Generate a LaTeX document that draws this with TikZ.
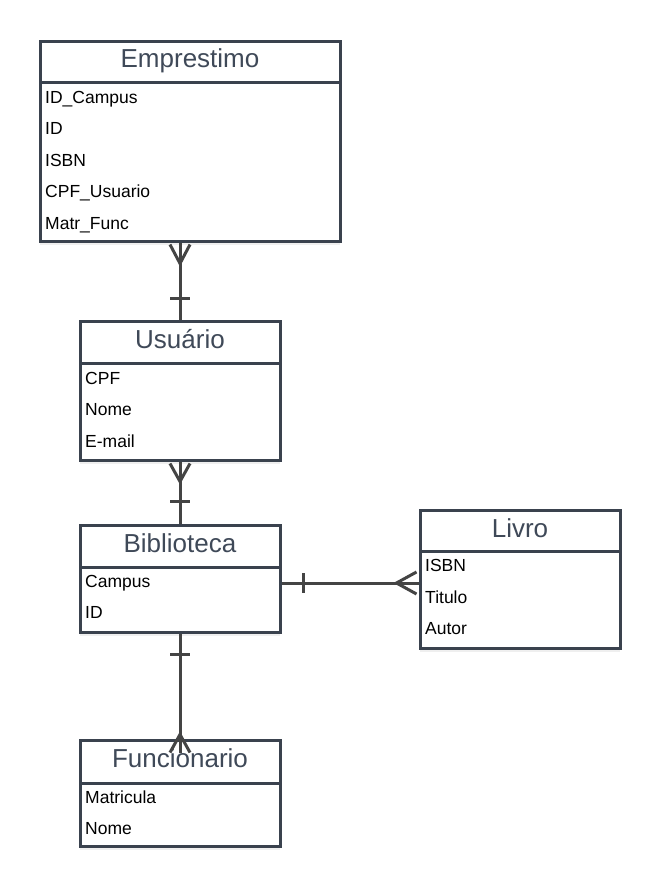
\documentclass[tikz,border=0pt]{standalone}
\usepackage{fontspec}
\setmainfont{Liberation Sans}
\usetikzlibrary{calc,shadows}
\definecolor{bord}{HTML}{3A424E}
\definecolor{ttl}{HTML}{3F4958}
\definecolor{connc}{HTML}{444444}
\begin{document}
\begin{tikzpicture}[x=1pt,y=-1pt,
  box/.style={draw=bord, line width=3pt, fill=white, rectangle, inner sep=0pt,
    drop shadow={opacity=0.12, shadow xshift=0pt, shadow yshift=-4pt}},
  divline/.style={draw=bord, line width=3pt},
  ttlt/.style={font=\fontsize{26}{26}\selectfont, text=ttl, inner sep=0pt, anchor=base},
  rowt/.style={font=\fontsize{17.5}{17.5}\selectfont, text=black, inner sep=0pt, anchor=base west},
  conn/.style={draw=connc, line width=3pt},
]
\useasboundingbox (0,0) rectangle (660,886);
\fill[white] (0,0) rectangle (660,886);

% Emprestimo
\node[box, minimum width=300pt, minimum height=200pt] (emp) at (190,141) {};
\draw[divline] (40,82) -- (340,82);
\node[ttlt] (empt) at (190,67) {Emprestimo};
\node[rowt] (emp1) at (45,103) {ID\_Campus};
\node[rowt] (emp2) at (45,134.5) {ID};
\node[rowt] (emp3) at (45,166) {ISBN};
\node[rowt] (emp4) at (45,197.5) {CPF\_Usuario};
\node[rowt] (emp5) at (45,229) {Matr\_Func};

% Usuario
\node[box, minimum width=200pt, minimum height=139pt] (usu) at (180,390.5) {};
\draw[divline] (80,363) -- (280,363);
\node[ttlt] (usut) at (180,348) {Usuário};
\node[rowt] (usu1) at (85,384) {CPF};
\node[rowt] (usu2) at (85,415.5) {Nome};
\node[rowt] (usu3) at (85,447) {E-mail};

% Biblioteca
\node[box, minimum width=200pt, minimum height=107pt] (bib) at (180,578.5) {};
\draw[divline] (80,567) -- (280,567);
\node[ttlt] (bibt) at (180,552) {Biblioteca};
\node[rowt] (bib1) at (85,587) {Campus};
\node[rowt] (bib2) at (85,618.5) {ID};

% Livro
\node[box, minimum width=200pt, minimum height=138pt] (liv) at (520,579) {};
\draw[divline] (420,551) -- (620,551);
\node[ttlt] (livt) at (520,537) {Livro};
\node[rowt] (liv1) at (425,571.5) {ISBN};
\node[rowt] (liv2) at (425,603) {Titulo};
\node[rowt] (liv3) at (425,634.5) {Autor};

% Funcionario
\node[box, minimum width=200pt, minimum height=106pt] (fun) at (180,793) {};
\draw[divline] (80,783) -- (280,783);
\node[ttlt] (funt) at (180,767) {Funcionario};
\node[rowt] (fun1) at (85,803) {Matricula};
\node[rowt] (fun2) at (85,834.5) {Nome};

% Emprestimo -- Usuario
\coordinate (e1) at (usu.north |- emp.south);
\draw[conn] (e1) -- (usu.north);
\draw[conn] ($(e1)+(-10,2)$) -- ($(e1)+(0,21)$) -- ($(e1)+(10,2)$);
\draw[conn] ($(usu.north)+(-10,-21)$) -- ($(usu.north)+(10,-21)$);

% Usuario -- Biblioteca
\draw[conn] (usu.south) -- (bib.north);
\draw[conn] ($(usu.south)+(-10,2)$) -- ($(usu.south)+(0,20)$) -- ($(usu.south)+(10,2)$);
\draw[conn] ($(bib.north)+(-10,-22)$) -- ($(bib.north)+(10,-22)$);

% Biblioteca -- Livro
\coordinate (b3) at ($(bib.east)+(0,4.5)$);
\coordinate (l3) at (liv.west |- b3);
\draw[conn] (b3) -- (l3);
\draw[conn] ($(b3)+(22,-10)$) -- ($(b3)+(22,10)$);
\draw[conn] ($(l3)+(-2,-11)$) -- ($(l3)+(-22,0)$) -- ($(l3)+(-2,11)$);

% Biblioteca -- Funcionario
\coordinate (f4) at ($(fun.north)+(0,14)$);
\draw[conn] (bib.south) -- (f4);
\draw[conn] ($(bib.south)+(-10,21)$) -- ($(bib.south)+(10,21)$);
\draw[conn] ($(fun.north)+(-10,14)$) -- ($(fun.north)+(0,-4)$) -- ($(fun.north)+(10,14)$);
\end{tikzpicture}
\end{document}
